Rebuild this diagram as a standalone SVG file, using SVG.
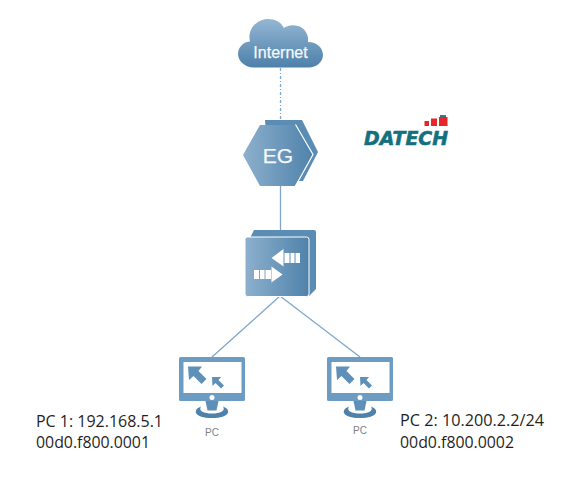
<svg xmlns="http://www.w3.org/2000/svg" width="575" height="482" viewBox="0 0 575 482">
<defs>
<linearGradient id="g" x1="0" y1="0" x2="1" y2="0"><stop offset="0" stop-color="#8db0cd"/><stop offset="1" stop-color="#4f82ab"/></linearGradient>
<linearGradient id="c" x1="0" y1="0" x2="0" y2="1"><stop offset="0" stop-color="#94b6d3"/><stop offset="1" stop-color="#4d80aa"/></linearGradient>
<g id="pc">
<rect x="179" y="357" width="66" height="44" rx="1.500" fill="#6d9cc2"/>
<rect x="183.500" y="362" width="58" height="31" fill="#fff"/>
<path d="M188 366.500L202 366.500L198.500 371L206.500 379L201.500 384L193.500 376L189 380Z" fill="#5f90b8"/>
<path d="M212 377H221L218.500 380L224 385.500L221 388.500L215.500 383L212.500 386Z" fill="#5f90b8"/>
<circle cx="212" cy="397.500" r="2.500" fill="#fff"/>
<path d="M205.500 401H218.500L216.500 410.500H207.500Z" fill="#5f8fb7"/>
<path d="M201 406.500C192 410 194 418 212 418C230 418 232 410 223 406.500C226 411 220 413.500 212 413.500C204 413.500 198 411 201 406.500Z" fill="#4f82ab"/>
</g>
</defs>
<style>
.n{font-family:"Liberation Sans",Arial,sans-serif;fill:#f5f8fb;stroke:#f5f8fb;stroke-width:.25}
.t{font-family:"Open Sans",sans-serif;font-size:16px;fill:#1f1f1f}
.pl{font-family:"Liberation Sans",Arial,sans-serif;font-size:10px;fill:#808285;text-anchor:middle}
.l{fill:none;stroke:#7ea7cb;stroke-width:1.300}
</style>
<rect width="575" height="482" fill="#fff"/>
<g id="connectors">
<path class="l" d="M280.500 68V120" stroke-dasharray="3 2 1 2"/>
<path class="l" d="M280.500 186V230"/>
<path class="l" d="M280 296L212 357"/>
<path class="l" d="M280 296L360 357"/>
</g>
<g id="internet">
<path d="M254 67.500C244 67.500 238 60 238 54C238 47 244 41.500 250 41.500C247 29 257 19 268 19C275 19 281 22 284 28C288 25 293 24.500 298 26C305 28 309 35 308 42C317 42 323 48 323 55C323 62 316 67.500 309 67.500Z" fill="url(#c)"/>
<text class="n" x="280.500" y="57.500" font-size="16" text-anchor="middle">Internet</text>
</g>
<g id="eg">
<path d="M265 120H302L318 152L303 181H270Z" fill="#5a8cb4"/>
<path d="M260 125H295L313 155L295 186H260L243 155Z" fill="url(#g)"/>
<path d="M295.500 124.500L313 154.500L295.500 186" fill="none" stroke="#fff" stroke-width="1.200"/>
<text class="n" x="278" y="162.500" font-size="21" text-anchor="middle">EG</text>
</g>
<g id="switch">
<path d="M250 238L254 230H314Q316 230 316 232V289L309 296V238Z" fill="#5a8cb4"/>
<rect x="245" y="237" width="64" height="59.500" rx="2.500" fill="url(#g)" stroke="#fff" stroke-width="1"/>
<path d="M271.500 258L283.500 249V266.500Z" fill="#fff"/>
<rect x="284.500" y="253" width="5" height="10" fill="#fff"/>
<rect x="290.500" y="253" width="4" height="10" fill="#fff"/>
<rect x="295.500" y="253" width="4.500" height="10" fill="#fff"/>
<path d="M282.500 274.500L271.500 266.500V282.500Z" fill="#fff"/>
<rect x="265.500" y="270" width="5.500" height="9" fill="#fff"/>
<rect x="260" y="270" width="4.500" height="9" fill="#fff"/>
<rect x="254" y="270" width="5" height="9" fill="#fff"/>
</g>
<g id="pc1">
<use href="#pc"/>
<text class="pl" x="212" y="436">PC</text>
</g>
<g id="pc2">
<use href="#pc" x="148"/>
<text class="pl" x="360" y="434">PC</text>
</g>
<g id="label1">
<text class="t" x="36" y="427" textLength="127" lengthAdjust="spacingAndGlyphs">PC 1: 192.168.5.1</text>
<text class="t" x="36" y="448" textLength="114" lengthAdjust="spacingAndGlyphs">00d0.f800.0001</text>
</g>
<g id="label2">
<text class="t" x="400" y="426" textLength="144" lengthAdjust="spacingAndGlyphs">PC 2: 10.200.2.2/24</text>
<text class="t" x="400" y="448" textLength="114" lengthAdjust="spacingAndGlyphs">00d0.f800.0002</text>
</g>
<g id="logo">
<rect x="424.500" y="121" width="4.500" height="5" fill="#e8262a"/>
<rect x="431" y="118.500" width="6" height="7.500" fill="#e8262a"/>
<rect x="439" y="117" width="8.500" height="9" fill="#e8262a"/>
<rect x="440" y="115" width="6" height="2" fill="#2a7f8a"/>
<text x="364" y="145" font-family="'DejaVu Sans',sans-serif" font-weight="700" font-style="italic" font-size="20" stroke="#14707f" stroke-width="0.600" fill="#14707f" textLength="84" lengthAdjust="spacingAndGlyphs">DATECH</text>
</g>
</svg>
